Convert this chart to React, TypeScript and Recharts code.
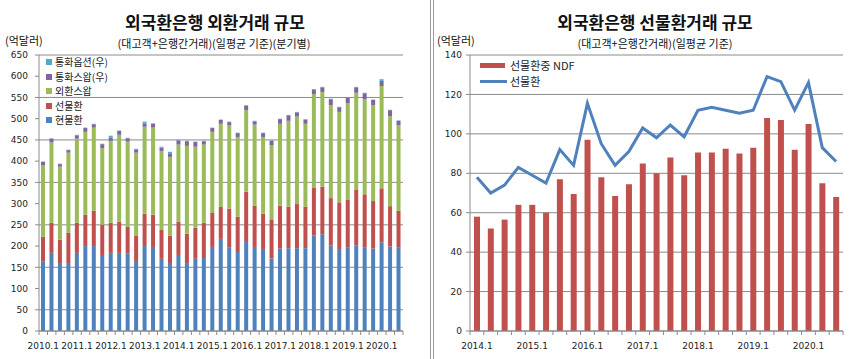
import React from "react";
import { ComposedChart, Bar, Line, XAxis, YAxis, CartesianGrid } from "recharts";

// 외환거래 (left) — quarterly, 2010.1 ~ 2020.3, 억달러
const spot = [163, 184, 158, 158, 184, 200, 200, 179, 184, 184, 182, 165, 200, 198, 170, 158, 179, 160, 170, 172, 198, 217, 196, 186, 212, 198, 191, 171, 194, 195, 195, 195, 225, 228, 201, 191, 196, 202, 196, 194, 209, 199, 196];
const forward = [59, 71, 57, 73, 71, 74, 83, 71, 71, 73, 63, 59, 76, 76, 68, 66, 78, 69, 73, 83, 80, 75, 92, 83, 116, 97, 85, 92, 101, 98, 104, 98, 113, 112, 112, 112, 114, 130, 126, 112, 127, 95, 87];
const fxSwap = [169, 189, 172, 189, 198, 195, 196, 181, 193, 205, 201, 196, 205, 205, 186, 186, 182, 207, 191, 184, 191, 196, 196, 188, 192, 191, 181, 174, 193, 202, 206, 195, 220, 223, 219, 213, 227, 229, 224, 226, 241, 212, 201];
const ccySwap = [7, 9, 6, 6, 8, 9, 8, 9, 7, 9, 8, 8, 7, 9, 8, 7, 10, 11, 11, 8, 9, 9, 8, 9, 11, 8, 9, 11, 11, 13, 10, 10, 11, 11, 14, 11, 12, 13, 14, 12, 12, 14, 11];
const ccyOption = [1, 1, 1, 1, 1, 1, 1, 1, 5, 1, 1, 1, 5, 1, 2, 5, 1, 1, 1, 1, 1, 1, 1, 1, 1, 1, 1, 1, 1, 1, 1, 1, 1, 1, 1, 1, 1, 1, 1, 1, 4, 1, 1];

// 선물환거래 (right) — quarterly, 2014.1 ~ 2020.3
const ndf = [58, 52, 56.5, 64, 64, 60, 77, 69.5, 97, 78, 68.5, 74.5, 85, 80, 88, 79, 90.5, 90.5, 92.5, 90, 93, 108, 107, 92, 105, 75, 68];
const fwdTotal = [78, 70, 74, 83, 79, 75, 92, 84, 115.5, 95, 84, 91, 103, 98, 104.5, 98.5, 112, 113.5, 112, 110.5, 112, 129, 126.5, 112, 126, 93, 86];

const leftTicks = [0, 50, 100, 150, 200, 250, 300, 350, 400, 450, 500, 550, 600, 650];
const rightTicks = [0, 20, 40, 60, 80, 100, 120, 140];

function quarterLabels(startYear: number, count: number) {
  const out: string[] = [];
  for (let i = 0; i < count; i++) out.push(`${startYear + Math.floor(i / 4)}.${(i % 4) + 1}`);
  return out;
}

const leftQuarters = quarterLabels(2010, spot.length);
const rightQuarters = quarterLabels(2014, ndf.length);

const leftData = leftQuarters.map((q, i) => ({
  q,
  현물환: spot[i],
  선물환: forward[i],
  외환스왑: fxSwap[i],
  통화스왑: ccySwap[i],
  통화옵션: ccyOption[i],
}));

const rightData = rightQuarters.map((q, i) => ({ q, ndf: ndf[i], fwd: fwdTotal[i] }));

const BLUE = "#4F81BD";
const RED = "#C0504D";
const GREEN = "#9BBB59";
const PURPLE = "#8064A2";
const CYAN = "#4BACC6";
const GRID = "#8a8a8a";
const NUM_FONT = "'DejaVu Sans', sans-serif";
const KR_FONT = "'Noto Sans CJK KR', sans-serif";

function QuarterTick(props: any) {
  const { x, y, payload, index, step } = props;
  const show = String(payload.value).endsWith(".1");
  return (
    <g>
      {index === 0 && <line x1={x - step / 2} x2={x - step / 2} y1={y} y2={y + 4} stroke={GRID} />}
      <line x1={x + step / 2} x2={x + step / 2} y1={y} y2={y + 4} stroke={GRID} />
      {show && (
        <text x={x} y={y + 18} textAnchor="middle" fontSize={9} fill="#222" fontFamily={NUM_FONT}>
          {payload.value}
        </text>
      )}
    </g>
  );
}

const legendLeft = [
  { name: "통화옵션(우)", color: CYAN },
  { name: "통화스왑(우)", color: PURPLE },
  { name: "외환스왑", color: GREEN },
  { name: "선물환", color: RED },
  { name: "현물환", color: BLUE },
];

export default function App() {
  const leftStep = 364 / leftData.length;
  const rightStep = 373 / rightData.length;
  const abs = (s: React.CSSProperties): React.CSSProperties => ({ position: "absolute", ...s });

  return (
    <div style={{ position: "absolute", left: 0, top: 0, width: 865, height: 359, background: "#fff", overflow: "hidden", fontFamily: KR_FONT }}>
      {/* left panel */}
      <div style={abs({ left: 0, top: 0, width: 430, height: 359 })}>
        <ComposedChart width={430} height={359} data={leftData} margin={{ top: 55, right: 27, left: 0, bottom: 0 }} barSize={4}>
          <CartesianGrid vertical={false} stroke={GRID} />
          <XAxis
            dataKey="q"
            interval={0}
            height={28}
            tickSize={0}
            tickMargin={0}
            stroke={GRID}
            tick={<QuarterTick step={leftStep} />}
          />
          <YAxis
            width={39}
            domain={[0, 650]}
            ticks={leftTicks}
            stroke={GRID}
            tickSize={4}
            tickMargin={7}
            tick={{ fontSize: 9, fill: "#222", fontFamily: NUM_FONT }}
          />
          <Bar dataKey="현물환" stackId="a" fill={BLUE} isAnimationActive={false} />
          <Bar dataKey="선물환" stackId="a" fill={RED} isAnimationActive={false} />
          <Bar dataKey="외환스왑" stackId="a" fill={GREEN} isAnimationActive={false} />
          <Bar dataKey="통화스왑" stackId="a" fill={PURPLE} isAnimationActive={false} />
          <Bar dataKey="통화옵션" stackId="a" fill={CYAN} isAnimationActive={false} />
        </ComposedChart>
        <div style={abs({ left: 0, width: 430, top: 9, textAlign: "center", fontSize: 17, fontWeight: 700, color: "#111" })}>
          외국환은행 외환거래 규모
        </div>
        <div style={abs({ left: 0, width: 428, top: 35, textAlign: "center", fontSize: 11, color: "#111" })}>
          (대고객+은행간거래)(일평균 기준)(분기별)
        </div>
        <div style={abs({ left: 5, top: 32, fontSize: 11, color: "#111" })}>(억달러)</div>
        <div style={abs({ left: 46, top: 55 })}>
          {legendLeft.map((l) => (
            <div key={l.name} style={{ display: "flex", alignItems: "center", height: 14.5, lineHeight: "14.5px", fontSize: 10, color: "#222" }}>
              <span style={{ width: 6, height: 6, background: l.color, marginRight: 3 }} />
              <span>{l.name}</span>
            </div>
          ))}
        </div>
      </div>

      {/* divider lines */}
      <div style={abs({ left: 430, top: 0, width: 1, height: 359, background: "#9a9a9a" })} />
      <div style={abs({ left: 433, top: 0, width: 1, height: 359, background: "#9a9a9a" })} />

      {/* right panel */}
      <div style={abs({ left: 435, top: 0, width: 430, height: 359 })}>
        <ComposedChart width={430} height={359} data={rightData} margin={{ top: 55, right: 22, left: 0, bottom: 0 }} barSize={6}>
          <CartesianGrid vertical={false} stroke={GRID} />
          <XAxis
            dataKey="q"
            interval={0}
            height={28}
            tickSize={0}
            tickMargin={0}
            stroke={GRID}
            tick={<QuarterTick step={rightStep} />}
          />
          <YAxis
            width={35}
            domain={[0, 140]}
            ticks={rightTicks}
            stroke={GRID}
            tickSize={4}
            tickMargin={4}
            tick={{ fontSize: 9, fill: "#222", fontFamily: NUM_FONT }}
          />
          <Bar dataKey="ndf" fill={RED} isAnimationActive={false} />
          <Line dataKey="fwd" type="linear" stroke={BLUE} strokeWidth={3} dot={false} isAnimationActive={false} />
        </ComposedChart>
        <div style={abs({ left: 0, width: 440, top: 9, textAlign: "center", fontSize: 17, fontWeight: 700, color: "#111" })}>
          외국환은행 선물환거래 규모
        </div>
        <div style={abs({ left: 0, width: 440, top: 35, textAlign: "center", fontSize: 11, color: "#111" })}>
          (대고객+은행간거래)(일평균 기준)
        </div>
        <div style={abs({ left: 2, top: 32, fontSize: 11, color: "#111" })}>(억달러)</div>
        <div style={abs({ left: 45, top: 57 })}>
          <div style={{ display: "flex", alignItems: "center", height: 16, lineHeight: "16px", fontSize: 11, color: "#222" }}>
            <span style={{ width: 25, height: 5, background: RED, marginRight: 5 }} />
            <span>선물환중 NDF</span>
          </div>
          <div style={{ display: "flex", alignItems: "center", height: 16, lineHeight: "16px", fontSize: 11, color: "#222" }}>
            <span style={{ width: 27, height: 3, background: BLUE, marginRight: 3 }} />
            <span>선물환</span>
          </div>
        </div>
      </div>
    </div>
  );
}
